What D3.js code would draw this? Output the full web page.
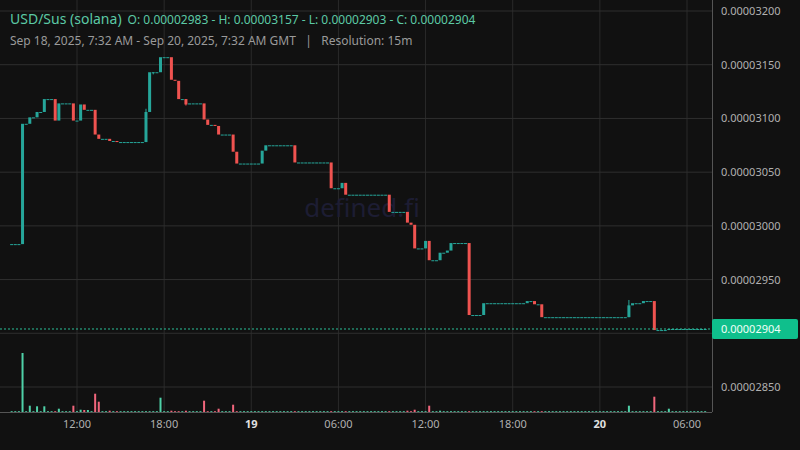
<!DOCTYPE html>
<html><head><meta charset="utf-8">
<script src="https://cdn.jsdelivr.net/npm/d3@7"></script>
<style>body{margin:0;background:#111111;}svg{display:block;font-family:"Noto Sans","Open Sans",sans-serif;}</style>
</head><body><svg id="c" width="800" height="450"></svg>
<script>
// prices in units of 1e-8
const startTime = "2025-09-18T07:30:00Z";
const openFirst = 2983;
const closes = [
2983,2983,2983,3095,3095,3101,3101,3106,3106,3118,
3118,3118,3098,3114,3114,3114,3114,3098,3098,3113,
3108,3108,3108,3085,3081,3081,3081,3079,3079,3078,
3078,3078,3078,3078,3078,3078,3078,3106,3143,3143,
3143,3157,3157,3157,3136,3135,3118,3118,3113,3114,
3114,3114,3114,3099,3094,3094,3093,3085,3085,3085,
3085,3069,3058,3058,3058,3058,3058,3058,3058,3070,
3075,3075,3075,3075,3075,3075,3075,3075,3059,3059,
3059,3059,3059,3059,3059,3059,3059,3059,3035,3035,
3035,3040,3029,3029,3029,3029,3029,3029,3029,3029,
3029,3029,3029,3029,3013,3013,3013,3013,3013,3003,
3001,2979,2979,2979,2986,2968,2968,2968,2975,2975,
2977,2984,2984,2984,2984,2984,2917,2917,2917,2917,
2928,2928,2928,2928,2928,2928,2928,2928,2928,2928,
2928,2928,2930,2930,2927,2927,2915,2915,2915,2915,
2915,2915,2915,2915,2915,2915,2915,2915,2915,2915,
2915,2915,2915,2915,2915,2915,2915,2915,2915,2915,
2926,2928,2928,2928,2930,2930,2930,2903,2903,2903,
2903,2904,2904,2904,2904,2904,2904,2904,2904,2904,
2904,2904];
const highWicks = [[37,3109],[170,2931],[40,3143]];
const lowWicks = [[48,3112],[39,3141]];
// volumes (arbitrary units); unlisted candles carry a tiny volume
const volIdx = [3,5,7,9,13,17,19,20,21,23,24,27,41,44,48,53,57,61,109,111,115,118,170,177,181];
const volVal = [590,63,57,57,33,63,23,20,20,183,103,13,143,13,13,113,33,73,13,23,63,13,63,153,33];
const tinyVol = 8;
const priceTicks = [2850,2900,2950,3000,3050,3100,3150,3200];
const lastPrice = 2904;

const svg = d3.select("#c");
const plotR=712, plotB=412;
const t0 = new Date(startTime);
const step = 15*60*1000;
const data = closes.map((c,i)=>{
  const o = i===0?openFirst:closes[i-1];
  return {t:new Date(+t0+i*step), o, c, h:Math.max(o,c), l:Math.min(o,c), v:tinyVol, i};
});
highWicks.forEach(([i,v])=>data[i].h=Math.max(data[i].h,v));
lowWicks.forEach(([i,v])=>data[i].l=Math.min(data[i].l,v));
volIdx.forEach((k,j)=>data[k].v=volVal[j]);

const x = d3.scaleUtc().domain([new Date("2025-09-18T12:00:00Z"),new Date("2025-09-20T06:00:00Z")]).range([77,687]);
const y = d3.scaleLinear().domain([2850,3200]).range([387,11]);
const yv = d3.scaleLinear().domain([0,590]).range([plotB,353]);

const green="#26a69a", red="#ef5350";
const xt = d3.utcHour.every(6).range(new Date("2025-09-18T12:00:00Z"), new Date("2025-09-20T07:00:00Z"));
svg.append("g").selectAll("line").data(xt).join("line")
 .attr("x1",d=>x(d)).attr("x2",d=>x(d)).attr("y1",0).attr("y2",plotB).attr("stroke","#2a2a2a");
svg.append("g").selectAll("line").data(priceTicks).join("line")
 .attr("x1",0).attr("x2",plotR).attr("y1",d=>y(d)).attr("y2",d=>y(d)).attr("stroke","#2f2f2f");
svg.append("text").attr("x",362).attr("y",217).attr("text-anchor","middle").attr("font-size",26)
 .attr("fill","#1d1d33").text("defined.fi");
const cw=3;
svg.append("g").selectAll("rect").data(data).join("rect")
 .attr("x",d=>x(d.t)-1).attr("width",2)
 .attr("y",d=>yv(d.v)).attr("height",d=>plotB-yv(d.v))
 .attr("fill",d=>d.c<d.o?"#f0667c":"#4fd1a8");
const g=svg.append("g");
g.selectAll("line").data(data.filter(d=>d.h>Math.max(d.o,d.c)||d.l<Math.min(d.o,d.c))).join("line")
 .attr("x1",d=>x(d.t)).attr("x2",d=>x(d.t)).attr("y1",d=>y(d.h)).attr("y2",d=>y(d.l))
 .attr("stroke",d=>d.c<d.o?red:green).attr("stroke-width",1);
g.selectAll("rect").data(data).join("rect")
 .attr("x",d=>x(d.t)-cw/2).attr("width",cw)
 .attr("y",d=>y(Math.max(d.o,d.c))).attr("height",d=>Math.max(1,Math.abs(y(d.o)-y(d.c))))
 .attr("fill",d=>d.c<d.o?red:green);
svg.append("line").attr("x1",0).attr("x2",plotR).attr("y1",y(lastPrice)).attr("y2",y(lastPrice))
 .attr("stroke","#2bbf98").attr("stroke-dasharray","2,2");
svg.append("line").attr("x1",plotR+0.5).attr("x2",plotR+0.5).attr("y1",0).attr("y2",plotB).attr("stroke","#555");
svg.append("line").attr("x1",0).attr("x2",plotR).attr("y1",plotB+0.5).attr("y2",plotB+0.5).attr("stroke","#555");
// y labels (the one hidden under the last-price badge is skipped)
svg.append("g").selectAll("text").data(priceTicks.filter(d=>Math.abs(y(d)-y(lastPrice))>14)).join("text")
 .attr("x",721).attr("y",d=>y(d)+4).attr("font-size",11).attr("fill","#b0b0b0")
 .text(d=>(d*1e-8).toFixed(8));
svg.append("rect").attr("x",712).attr("y",y(lastPrice)-10).attr("width",86).attr("height",20).attr("rx",2).attr("fill","#0fbf8c");
svg.append("text").attr("x",721).attr("y",y(lastPrice)+4).attr("font-size",11).attr("fill","#f0fff8")
 .text((lastPrice*1e-8).toFixed(8));
svg.append("g").selectAll("text").data(xt).join("text")
 .attr("x",d=>x(d)).attr("y",428).attr("text-anchor","middle").attr("font-size",11)
 .attr("fill",d=>d.getUTCHours()===0?"#e0e0e0":"#b0b0b0")
 .attr("font-weight",d=>d.getUTCHours()===0?"bold":"normal")
 .text(d=>d.getUTCHours()===0?d3.utcFormat("%-d")(d):d3.utcFormat("%H:%M")(d));
const hd=svg.append("text").attr("x",10).attr("y",24).attr("fill","#5cc9a5");
hd.append("tspan").attr("font-size",14).text("USD/Sus (solana)");
hd.append("tspan").attr("dx",6).attr("font-size",12).text("O: 0.00002983 - H: 0.00003157 - L: 0.00002903 - C: 0.00002904");
svg.append("text").attr("x",10).attr("y",45).attr("font-size",12).attr("fill","#9a9a9a")
 .text("Sep 18, 2025, 7:32 AM - Sep 20, 2025, 7:32 AM GMT   |   Resolution: 15m").attr("xml:space","preserve");
</script></body></html>
